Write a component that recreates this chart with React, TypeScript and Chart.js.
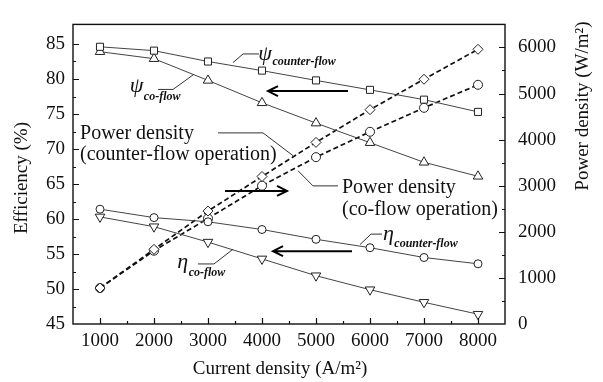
import { useEffect, useRef } from "react";
import { Chart, registerables } from "chart.js";

Chart.register(...registerables);

// Current density (A/m²)
const currentDensity = [1000, 2000, 3000, 4000, 5000, 6000, 7000, 8000];

// Efficiencies (%), left axis
const psiCounterFlow = [84.6, 84.05, 82.5, 81.2, 79.8, 78.45, 77.05, 75.3];
const psiCoFlow = [83.9, 82.9, 79.8, 76.6, 73.7, 70.9, 68.1, 66.1];
const etaCounterFlow = [61.4, 60.2, 59.6, 58.5, 57.1, 55.9, 54.5, 53.6];
const etaCoFlow = [60.3, 58.9, 56.7, 54.3, 51.9, 49.9, 48.1, 46.4];

// Power density (W/m²), right axis
const powerCounterFlow = [780, 1620, 2450, 3200, 3940, 4650, 5310, 5960];
const powerCoFlow = [780, 1590, 2290, 3000, 3620, 4170, 4690, 5190];

// Tick labels
const xTickValues = [1000, 2000, 3000, 4000, 5000, 6000, 7000, 8000];
const effTickValues = [45, 50, 55, 60, 65, 70, 75, 80, 85];
const powerTickValues = [0, 1000, 2000, 3000, 4000, 5000, 6000];

const SERIF = '"Liberation Serif", "Times New Roman", Times, serif';
const INK = "#111";

// Annotation geometry in data units (x: A/m², y: efficiency %)
const leaderLines: [number, number][][] = [
  [[3463, 82.34], [3648, 83.58], [3944, 83.58]],
  [[2074, 78.51], [2352, 78.51], [2741, 80.68]],
  [[3185, 72.3], [4019, 72.3], [4574, 69.05]],
  [[4667, 66.89], [4944, 64.73], [5407, 64.73]],
  [[5815, 56.35], [6019, 57.84], [6222, 57.84]],
  [[3463, 55.68], [3111, 53.58], [2815, 53.58]],
];

// [from x, to x (arrow tip), y]
const arrows: [number, number, number][] = [
  [5593, 4111, 78.28],
  [3315, 4463, 64.01],
  [5667, 4204, 55.41],
];

// Greek symbol with italic subscript: [symbol, subscript, x, baseline y, subscript baseline y]
const symbolLabels: [string, string, number, number, number][] = [
  ["ψ", "counter-flow", 3930, 82.77, 82.03],
  ["ψ", "co-flow", 1550, 78.11, 77.03],
  ["η", "counter-flow", 6240, 57.03, 55.95],
  ["η", "co-flow", 2430, 52.97, 51.89],
];

// Two-line text blocks: [line 1, line 2, x, baseline y of line 1, baseline y of line 2]
const textBlocks: [string, string, number, number, number][] = [
  ["Power density", "(counter-flow operation)", 630, 71.49, 68.38],
  ["Power density", "(co-flow operation)", 5481, 63.65, 60.54],
];

const decorPlugin = {
  id: "decor",
  afterDraw(chart: any) {
    const { ctx, chartArea: a, scales } = chart;
    const xs = scales.x;
    const ys = scales.y;
    const ps = scales.y2;
    const px = (v: number) => xs.getPixelForValue(v);
    const py = (v: number) => ys.getPixelForValue(v);
    ctx.save();

    // frame
    ctx.strokeStyle = INK;
    ctx.lineWidth = 1.4;
    ctx.strokeRect(a.left, a.top, a.right - a.left, a.bottom - a.top);

    // inward ticks
    ctx.lineWidth = 1.2;
    ctx.beginPath();
    for (let v = 1000; v <= 8000; v += 500) {
      const x = Math.round(px(v)) + 0.5;
      const len = v % 1000 === 0 ? 6 : 3;
      ctx.moveTo(x, a.bottom);
      ctx.lineTo(x, a.bottom - len);
    }
    for (let v = 47.5; v <= 85; v += 2.5) {
      const y = Math.round(py(v)) + 0.5;
      const len = v % 5 === 0 ? 6 : 3;
      ctx.moveTo(a.left, y);
      ctx.lineTo(a.left + len, y);
    }
    for (let v = 500; v <= 6000; v += 500) {
      const y = Math.round(ps.getPixelForValue(v)) + 0.5;
      const len = v % 1000 === 0 ? 6 : 3;
      ctx.moveTo(a.right, y);
      ctx.lineTo(a.right - len, y);
    }
    ctx.stroke();

    // leader lines
    ctx.strokeStyle = "#333";
    ctx.lineWidth = 1;
    for (const pts of leaderLines) {
      ctx.beginPath();
      pts.forEach(([vx, vy], i) => {
        if (i === 0) ctx.moveTo(px(vx), py(vy));
        else ctx.lineTo(px(vx), py(vy));
      });
      ctx.stroke();
    }

    // arrows
    ctx.strokeStyle = "#000";
    ctx.lineWidth = 2;
    for (const [from, to, vy] of arrows) {
      const x1 = px(from);
      const x2 = px(to);
      const y = py(vy);
      const dir = Math.sign(x2 - x1);
      ctx.beginPath();
      ctx.moveTo(x1, y);
      ctx.lineTo(x2, y);
      ctx.moveTo(x2 - dir * 10, y - 5);
      ctx.lineTo(x2, y);
      ctx.lineTo(x2 - dir * 10, y + 5);
      ctx.stroke();
    }

    // text
    ctx.fillStyle = INK;
    ctx.textAlign = "left";
    ctx.textBaseline = "alphabetic";
    for (const [sym, sub, sx, sy, by] of symbolLabels) {
      ctx.font = `italic 22px ${SERIF}`;
      const x0 = px(sx);
      ctx.fillText(sym, x0, py(sy));
      const w = ctx.measureText(sym).width;
      ctx.font = `italic bold 12px ${SERIF}`;
      ctx.fillText(sub, x0 + w + 0.5, py(by));
    }
    ctx.font = `20px ${SERIF}`;
    for (const [l1, l2, tx, y1, y2] of textBlocks) {
      ctx.fillText(l1, px(tx), py(y1));
      ctx.fillText(l2, px(tx), py(y2));
    }

    // axis titles
    ctx.font = `19px ${SERIF}`;
    ctx.textAlign = "center";
    ctx.textBaseline = "middle";
    ctx.fillText("Current density (A/m²)", 280, 369);
    ctx.save();
    ctx.translate(22, 178);
    ctx.rotate(-Math.PI / 2);
    ctx.fillText("Efficiency (%)", 0, 0);
    ctx.restore();
    ctx.save();
    ctx.translate(583, 106);
    ctx.rotate(-Math.PI / 2);
    ctx.fillText("Power density (W/m²)", 0, 0);
    ctx.restore();

    ctx.restore();
  },
};

const toPoints = (ys: number[]) => currentDensity.map((x, i) => ({ x, y: ys[i] }));

export default function App() {
  const canvasRef = useRef<HTMLCanvasElement | null>(null);

  useEffect(() => {
    const canvas = canvasRef.current;
    if (!canvas) return;

    const solid = {
      borderColor: "#444",
      borderWidth: 1,
      pointBackgroundColor: "#fff",
      pointBorderColor: "#222",
      pointBorderWidth: 1,
      tension: 0,
      yAxisID: "y",
    };
    const dashed = {
      borderColor: "#111",
      borderWidth: 1.7,
      borderDash: [5, 3],
      pointBackgroundColor: "#fff",
      pointBorderColor: "#222",
      pointBorderWidth: 1,
      tension: 0,
      yAxisID: "y2",
    };
    const tickFont = { family: SERIF, size: 19 };

    const chart = new Chart(canvas, {
      type: "line",
      data: {
        datasets: [
          { ...solid, label: "ψ counter-flow", data: toPoints(psiCounterFlow), pointStyle: "rect", pointRadius: 5 },
          { ...solid, label: "ψ co-flow", data: toPoints(psiCoFlow), pointStyle: "triangle", pointRadius: 5.5 },
          { ...solid, label: "η counter-flow", data: toPoints(etaCounterFlow), pointStyle: "circle", pointRadius: 4 },
          { ...solid, label: "η co-flow", data: toPoints(etaCoFlow), pointStyle: "triangle", pointRotation: 180, pointRadius: 5.5 },
          { ...dashed, label: "Power density (counter-flow)", data: toPoints(powerCounterFlow), pointStyle: "rectRot", pointRadius: 5 },
          { ...dashed, label: "Power density (co-flow)", data: toPoints(powerCoFlow), pointStyle: "circle", pointRadius: 4.5 },
        ],
      },
      options: {
        responsive: false,
        animation: false,
        devicePixelRatio: 1,
        layout: { padding: { top: 8, left: 0, right: 0, bottom: 0 } },
        plugins: { legend: { display: false }, tooltip: { enabled: false } },
        scales: {
          x: {
            type: "linear",
            min: 500,
            max: 8500,
            afterBuildTicks: (s: any) => {
              s.ticks = xTickValues.map((value) => ({ value }));
            },
            afterFit: (s: any) => {
              s.height = 58;
            },
            grid: { display: false, drawTicks: false },
            border: { display: false },
            ticks: { font: tickFont, color: INK, padding: 6, maxRotation: 0, autoSkip: false, callback: (v: any) => String(v) },
          },
          y: {
            type: "linear",
            position: "left",
            min: 45,
            max: 87.8,
            afterBuildTicks: (s: any) => {
              s.ticks = effTickValues.map((value) => ({ value }));
            },
            afterFit: (s: any) => {
              s.width = 73;
            },
            grid: { display: false, drawTicks: false },
            border: { display: false },
            ticks: { font: tickFont, color: INK, padding: 8, autoSkip: false, callback: (v: any) => String(v) },
          },
          y2: {
            type: "linear",
            position: "right",
            min: 0,
            max: 6500,
            afterBuildTicks: (s: any) => {
              s.ticks = powerTickValues.map((value) => ({ value }));
            },
            afterFit: (s: any) => {
              s.width = 98;
            },
            grid: { display: false, drawTicks: false },
            border: { display: false },
            ticks: { font: tickFont, color: INK, padding: 13, autoSkip: false, callback: (v: any) => String(v) },
          },
        },
      },
      plugins: [decorPlugin],
    } as any);

    return () => chart.destroy();
  }, []);

  return (
    <div style={{ position: "fixed", left: 0, top: 0, width: 603, height: 382, background: "#fff" }}>
      <canvas ref={canvasRef} width={603} height={382} style={{ display: "block", width: 603, height: 382 }} />
    </div>
  );
}
